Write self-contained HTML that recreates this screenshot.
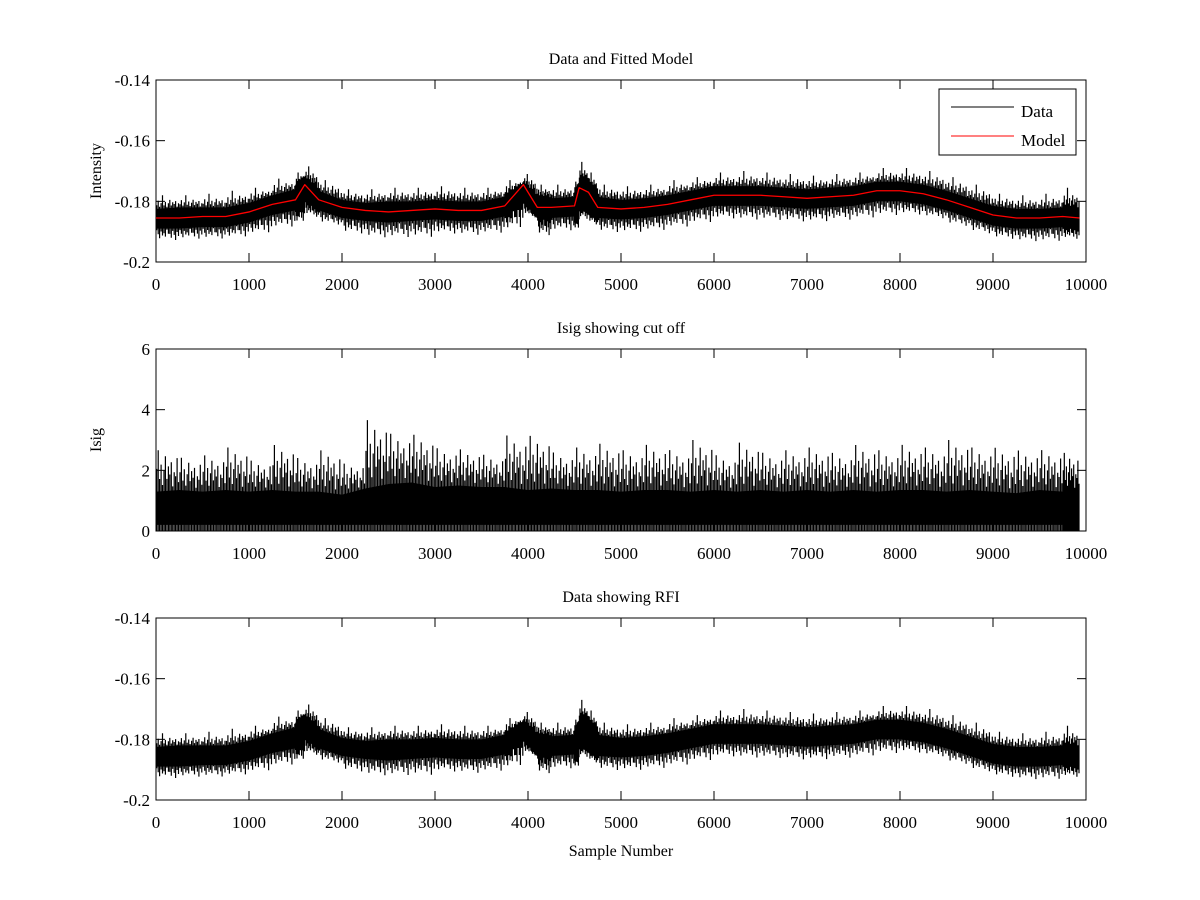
<!DOCTYPE html>
<html><head><meta charset="utf-8"><style>
html,body{margin:0;padding:0;background:#fff;}
svg{display:block;font-family:"Liberation Serif",serif;}
</style></head><body>
<svg id="fig" width="1200" height="900" viewBox="0 0 1200 900" xmlns="http://www.w3.org/2000/svg"></svg>
<script>
// ---- data ----
const samples = [0,250,500,750,1000,1250,1500,1600,1750,2000,2250,2500,2750,3000,3250,3500,3750,3950,4100,4250,4500,4550,4650,4750,5000,5250,5500,5750,6000,6250,6500,6750,7000,7250,7500,7750,8000,8250,8500,8750,9000,9250,9500,9750,9930];
const modelVals = [-.1855,-.1855,-.185,-.185,-.1835,-.181,-.1795,-.1745,-.1795,-.182,-.183,-.1835,-.183,-.1825,-.183,-.183,-.1815,-.1745,-.182,-.182,-.1815,-.1755,-.177,-.182,-.1825,-.182,-.181,-.1795,-.178,-.178,-.178,-.1785,-.179,-.1785,-.178,-.1765,-.1765,-.1775,-.1795,-.182,-.1845,-.1855,-.1855,-.185,-.1855];
const dataCoreHi = [-.1825,-.182,-.182,-.182,-.1805,-.178,-.176,-.1725,-.1765,-.1795,-.1805,-.18,-.18,-.1795,-.18,-.18,-.1785,-.174,-.1785,-.179,-.1785,-.174,-.175,-.1785,-.1795,-.179,-.178,-.1765,-.175,-.175,-.175,-.1755,-.176,-.1755,-.175,-.1735,-.1735,-.1745,-.1765,-.179,-.1815,-.1825,-.1825,-.182,-.1825];
const dataCoreLo = [-.189,-.189,-.1885,-.1885,-.187,-.1845,-.183,-.1795,-.183,-.1855,-.1865,-.187,-.1865,-.186,-.1865,-.1865,-.185,-.180,-.1855,-.1855,-.185,-.181,-.182,-.1855,-.186,-.1855,-.1845,-.183,-.1815,-.1815,-.1815,-.182,-.1825,-.182,-.1815,-.180,-.180,-.181,-.183,-.1855,-.188,-.189,-.189,-.1885,-.189];
const dataMax = [-.178,-.178,-.1775,-.1765,-.1755,-.1725,-.1705,-.1685,-.173,-.176,-.176,-.1755,-.1755,-.175,-.1755,-.1755,-.173,-.171,-.1745,-.1745,-.1735,-.167,-.1705,-.1745,-.175,-.1745,-.173,-.172,-.1705,-.170,-.1705,-.171,-.1715,-.171,-.1705,-.169,-.169,-.170,-.172,-.1745,-.1775,-.178,-.1775,-.1755,-.1765];
const dataMin = [-.194,-.1935,-.1935,-.193,-.192,-.190,-.1885,-.186,-.1885,-.192,-.1935,-.1935,-.1935,-.192,-.1925,-.192,-.191,-.1855,-.193,-.191,-.191,-.187,-.1885,-.1915,-.1915,-.191,-.190,-.1885,-.187,-.1875,-.1875,-.188,-.188,-.1875,-.187,-.186,-.1855,-.1865,-.189,-.1915,-.1935,-.1945,-.1945,-.1935,-.193];
const isigSamples = [0,250,500,750,1000,1250,1500,1750,2000,2250,2500,2750,3000,3250,3500,3750,4000,4250,4500,4750,5000,5250,5500,5750,6000,6250,6500,6750,7000,7250,7500,7750,8000,8250,8500,8750,9000,9250,9500,9750,9930];
const isigCore = [1.3,1.35,1.3,1.35,1.3,1.35,1.3,1.3,1.2,1.4,1.55,1.6,1.45,1.5,1.45,1.45,1.35,1.4,1.35,1.35,1.3,1.35,1.35,1.3,1.35,1.3,1.35,1.3,1.35,1.3,1.35,1.3,1.35,1.35,1.3,1.35,1.3,1.25,1.35,1.3,1.3];
const isigMax = [2.9,2.6,2.7,3.0,2.5,3.1,2.6,2.9,2.4,4.05,3.5,3.45,2.95,2.9,2.7,3.45,3.45,2.8,3.0,3.15,2.9,3.1,2.9,3.3,2.7,3.2,2.8,2.9,3.0,2.8,3.1,2.9,3.1,3.0,3.3,3.0,3.0,2.9,2.9,2.8,2.95];
const xTicks = [0,1000,2000,3000,4000,5000,6000,7000,8000,9000,10000];
const yTicksIntensity = [-0.14,-0.16,-0.18,-0.2];
const yTicksIsig = [0,2,4,6];
// fixed visual jitter pattern (fraction of core→extreme span) for drawing dense spikes
const spikePattern = [0.35,0.8,0.2,0.55,1.0,0.3,0.65,0.15,0.5,0.85,0.25,0.6,0.4,0.7,0.1,0.45];

const NS = "http://www.w3.org/2000/svg";
const svg = document.getElementById('fig');
function mk(tag, attrs, parent){ const e=document.createElementNS(NS,tag); for(const k in attrs) e.setAttribute(k,attrs[k]); (parent||svg).appendChild(e); return e; }
const L=156, R=1086;
function xs(v){ return L + v/10000*(R-L); }

function panel(name, top, bottom, ymin, ymax, yTicks, title, ylabel, xlabel){
  const g = mk('g',{});
  
  
  const ys = v => bottom - (v-ymin)/(ymax-ymin)*(bottom-top);
  return {g, ys, top, bottom, yTicks, title, ylabel, xlabel};
}
function frame(p){
  const {g, ys, top, bottom} = p;
  const box = mk('rect',{x:L,y:top,width:R-L,height:bottom-top,fill:'none',stroke:'#000','stroke-width':1},g);
  
  
  xTicks.forEach(t=>{
    const x=xs(t);
    mk('line',{x1:x,x2:x,y1:bottom,y2:bottom-9,stroke:'#000'},g);
    mk('line',{x1:x,x2:x,y1:top,y2:top+9,stroke:'#000'},g);
    const tx = mk('text',{x:x,y:bottom+28,'text-anchor':'middle','font-size':17},g);
    tx.textContent=t;
    
    
  });
  p.yTicks.forEach(t=>{
    const y=ys(t);
    mk('line',{x1:L,x2:L+9,y1:y,y2:y,stroke:'#000'},g);
    mk('line',{x1:R,x2:R-9,y1:y,y2:y,stroke:'#000'},g);
    const tx = mk('text',{x:L-6,y:y+6,'text-anchor':'end','font-size':17},g);
    tx.textContent=t;
    
    
  });
  const ti = mk('text',{x:(L+R)/2,y:top-16,'text-anchor':'middle','font-size':16},g);
  ti.textContent=p.title;
  
  
  const yl = mk('text',{x:0,y:0,'text-anchor':'middle','font-size':16,transform:`translate(101,${(top+bottom)/2}) rotate(-90)`},g);
  yl.textContent=p.ylabel;
  
  
  if(p.xlabel){
    const xl = mk('text',{x:(L+R)/2,y:bottom+56,'text-anchor':'middle','font-size':16},g);
    xl.textContent=p.xlabel;
    
    
  }
}
const N_PER_SEG = 16;
function drawData(p){
  const {g, ys} = p;
  let up='', dn='';
  samples.forEach((s,i)=>{ up += `${xs(s)},${ys(dataCoreHi[i])} `; });
  for(let i=samples.length-1;i>=0;i--) dn += `${xs(samples[i])},${ys(dataCoreLo[i])} `;
  const band = mk('polygon',{points:up+dn,fill:'#000'},g);
  
  
  let d='';
  for(let i=0;i<samples.length-1;i++){
    for(let k=0;k<N_PER_SEG;k++){
      const f=(k+0.5)/N_PER_SEG;
      const s = samples[i] + (samples[i+1]-samples[i])*f;
      const ch = dataCoreHi[i]+(dataCoreHi[i+1]-dataCoreHi[i])*f;
      const cl = dataCoreLo[i]+(dataCoreLo[i+1]-dataCoreLo[i])*f;
      const a = spikePattern[k%spikePattern.length];
      const b = spikePattern[(k+7)%spikePattern.length];
      const hi = ch + (dataMax[i]-ch)*a*(k===4?1:0.75);
      const lo = cl + (dataMin[i]-cl)*b*(k===9?1:0.75);
      d += `M${xs(s).toFixed(1)},${ys(hi).toFixed(1)}V${ys(lo).toFixed(1)}`;
    }
  }
  const sp = mk('path',{d:d,stroke:'#000','stroke-width':1.2,fill:'none'},g);
  
  
}

// top panel
const p1 = panel('panel-data-model',80,262,-0.2,-0.14,yTicksIntensity,'Data and Fitted Model','Intensity');
frame(p1); drawData(p1);
let mpts = samples.map((s,i)=>`${xs(s)},${p1.ys(modelVals[i])}`).join(' ');
const model = mk('polyline',{points:mpts,fill:'none',stroke:'#f00','stroke-width':1.3,'stroke-linejoin':'round'},p1.g);


// legend
const lg = mk('g',{},p1.g);


mk('rect',{x:939,y:89,width:137,height:66,fill:'#fff',stroke:'#000'},lg);
mk('line',{x1:951,x2:1014,y1:107,y2:107,stroke:'#000'},lg);
mk('line',{x1:951,x2:1014,y1:136,y2:136,stroke:'#f00'},lg);
const ld = mk('text',{x:1021,y:117,'font-size':17},lg); ld.textContent='Data';


const lm = mk('text',{x:1021,y:146,'font-size':17},lg); lm.textContent='Model';



// middle panel
const p2 = panel('panel-isig',349,531,0,6,yTicksIsig,'Isig showing cut off','Isig');
frame(p2);
{
  const ys=p2.ys; let up='';
  isigSamples.forEach((s,i)=>{ up += `${xs(s)},${ys(isigCore[i])} `; });
  const band = mk('polygon',{points:`${xs(0)},${ys(0.2)} `+up+`${xs(9930)},${ys(0.2)}`,fill:'#000'},p2.g);
  
  
  let d='';
  for(let i=0;i<isigSamples.length-1;i++){
    for(let k=0;k<N_PER_SEG;k++){
      const f=(k+0.5)/N_PER_SEG;
      const s = isigSamples[i]+(isigSamples[i+1]-isigSamples[i])*f;
      const c = isigCore[i]+(isigCore[i+1]-isigCore[i])*f;
      const a = spikePattern[(k+3)%spikePattern.length];
      const hi = c + (isigMax[i]-c)*a*(k===7?1:0.85);
      d += `M${xs(s).toFixed(1)},${ys(hi).toFixed(1)}V${ys(0).toFixed(1)}`;
    }
  }
  const sp = mk('path',{d:d,stroke:'#000','stroke-width':1.2,fill:'none'},p2.g);
  
  
}

// bottom panel
const p3 = panel('panel-rfi',618,800,-0.2,-0.14,yTicksIntensity,'Data showing RFI','','Sample Number');
frame(p3); drawData(p3);
</script>
</body></html>
